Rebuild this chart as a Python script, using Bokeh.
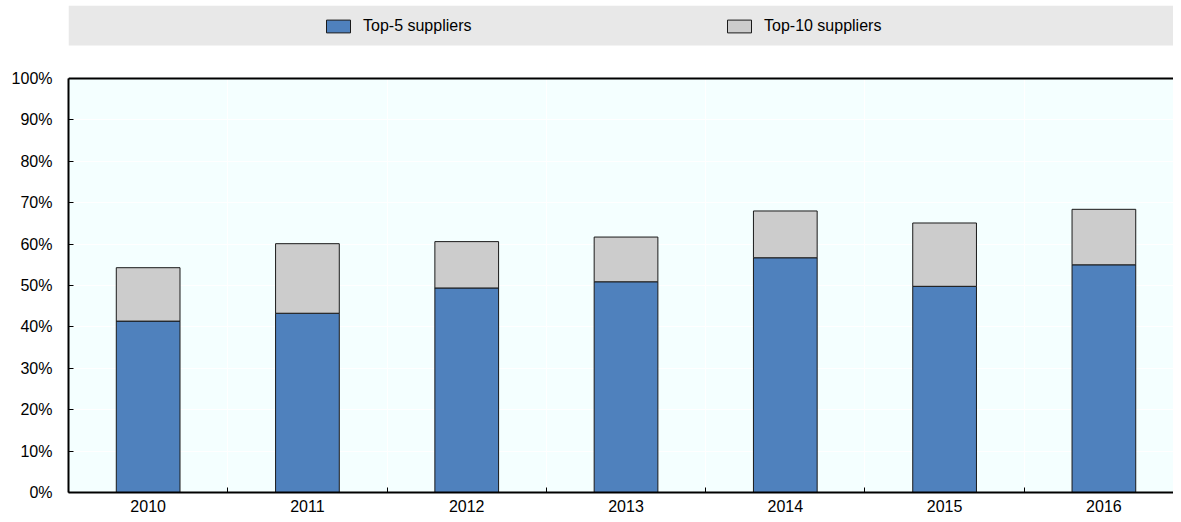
from bokeh.plotting import figure
from bokeh.models import (ColumnDataSource, FixedTicker, PrintfTickFormatter, Span,
                          BoxAnnotation, Legend, LegendItem, Range1d)
from bokeh.embed import file_html
from bokeh.resources import INLINE

years = ["2010", "2011", "2012", "2013", "2014", "2015", "2016"]
top5 = [41.4, 43.3, 49.4, 50.9, 56.7, 49.8, 55.0]
top10 = [54.3, 60.1, 60.6, 61.7, 68.0, 65.1, 68.4]
y_ticks = [0, 10, 20, 30, 40, 50, 60, 70, 80, 90, 100]

FONT = "Liberation Sans"
FS = "16px"

xs = list(range(len(years)))
src = ColumnDataSource(dict(x=xs, top5=top5, top10=top10))

W, H = 1173, 514
p = figure(width=W, height=H, output_backend="svg", toolbar_location=None,
           x_range=Range1d(-0.5, 6.437), y_range=Range1d(0, 118.84),
           min_border_left=68, min_border_right=0, min_border_top=0,
           min_border_bottom=21, background_fill_color="white",
           border_fill_color="white", outline_line_color=None)

# plot-area background (0..100 %)
p.add_layout(BoxAnnotation(bottom=0, top=100, fill_color="#f4ffff", fill_alpha=1,
                           line_color=None, level="image"))
# legend band
p.add_layout(BoxAnnotation(bottom=107.97, top=117.6, fill_color="#e8e8e8", fill_alpha=1,
                           line_color=None, level="glyph"))

r5 = p.vbar(x="x", width=0.4, bottom=0, top="top5", source=src,
            fill_color="#4f81bd", line_color="#1a1a1a", line_width=1)
r10 = p.vbar(x="x", width=0.4, bottom="top5", top="top10", source=src,
             fill_color="#cccccc", line_color="#1a1a1a", line_width=1)

p.add_layout(Span(location=100, dimension="width", line_color="black", line_width=2))

# axes
xt = FixedTicker(ticks=xs, minor_ticks=[i + 0.5 for i in xs[:-1]])
p.xaxis.ticker = xt
p.xaxis.major_label_overrides = {i: y for i, y in zip(xs, years)}
p.xaxis.major_tick_in = 0
p.xaxis.major_tick_out = 0
p.xaxis.minor_tick_in = 5
p.xaxis.minor_tick_out = 0
p.xaxis.minor_tick_line_color = "black"
p.xaxis.axis_line_width = 2
p.xaxis.axis_line_color = "black"
p.xaxis.major_label_standoff = 7
p.xaxis.major_label_text_line_height = 0.6
p.xaxis.major_label_text_font = FONT
p.xaxis.major_label_text_font_size = FS
p.xaxis.major_label_text_color = "black"

p.yaxis.ticker = FixedTicker(ticks=y_ticks, minor_ticks=[])
p.yaxis.bounds = (0, 100)
p.yaxis.formatter = PrintfTickFormatter(format="%d%%")
p.yaxis.major_tick_in = 5
p.yaxis.major_tick_out = 0
p.yaxis.minor_tick_line_color = None
p.yaxis.axis_line_width = 2
p.yaxis.axis_line_color = "black"
p.yaxis.major_label_standoff = 16
p.yaxis.major_label_text_font = FONT
p.yaxis.major_label_text_font_size = FS
p.yaxis.major_label_text_color = "black"

# grids
p.xgrid.grid_line_color = None
p.xgrid.minor_grid_line_color = "white"
p.xgrid.minor_grid_line_width = 1
p.ygrid.ticker = FixedTicker(ticks=y_ticks)
p.ygrid.grid_line_color = "white"
p.ygrid.grid_line_width = 1
p.ygrid.bounds = (0, 100)

legend = Legend(items=[LegendItem(label="Top-5 suppliers", renderers=[r5]),
                       LegendItem(label="Top-10 suppliers", renderers=[r10])],
                location=(255, 457), orientation="horizontal",
                glyph_width=30, glyph_height=16, label_height=16,
                label_width=340, spacing=21, label_standoff=10,
                padding=0, margin=0, background_fill_alpha=0,
                border_line_color=None,
                label_text_font=FONT, label_text_font_size=FS,
                label_text_color="black")
p.add_layout(legend)

open("out.html", "w").write(file_html(p, INLINE))
